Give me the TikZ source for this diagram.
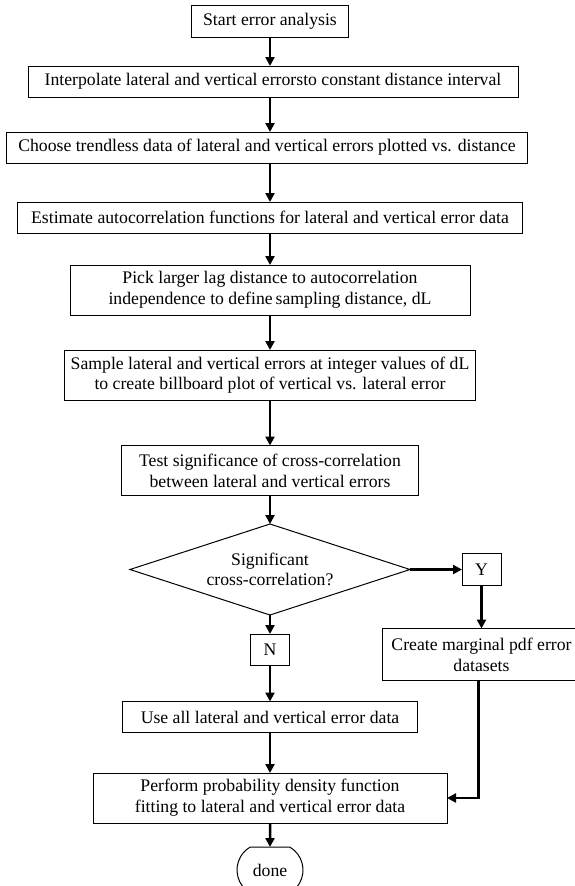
\documentclass[tikz,border=0pt]{standalone}
\usepackage{fontspec}
\setmainfont{Liberation Serif}
\usetikzlibrary{shapes.geometric, shapes.misc, positioning, arrows.meta}

\begin{document}
\begin{tikzpicture}[
    node distance=30pt and 50pt,
    process/.style={
        rectangle,
        minimum height=31pt,
        inner sep=0pt,
        outer sep=0pt,
        align=center,
        draw=black,
        line width=1pt,
        font=\fontsize{17.7}{20.7}\selectfont
    },
    decision/.style={
        diamond,
        aspect=3,
        inner sep=0pt,
        outer sep=0pt,
        minimum width=280pt,
        minimum height=91pt,
        align=center,
        draw=black,
        line width=1pt,
        font=\fontsize{17.7}{20.7}\selectfont
    },
    flag/.style={process, minimum width=39pt},
    terminal/.style={
        rounded rectangle,
        rounded rectangle arc length=120,
        minimum width=66pt,
        minimum height=46pt,
        inner sep=0pt,
        outer sep=0pt,
        draw=black,
        line width=1pt,
        font=\fontsize{17.7}{20.7}\selectfont
    },
    arrow/.style={line width=2.5pt,-{Triangle[length=9pt,width=9pt]}}
]

\useasboundingbox (0,0) rectangle (575pt,-886pt);

% Nodes
\node (start) [process, minimum width=157pt, minimum height=32pt] at (270pt,-21pt) {Start error analysis};
\node (interp) [process, minimum width=490pt, below=29pt of start, xshift=3pt] {Interpolate lateral and vertical errorsto constant distance interval};
\node (choose) [process, minimum width=521pt, below=35pt of interp, xshift=-6pt] {Choose trendless data of lateral and vertical errors plotted vs. distance};
\node (estim) [process, minimum width=505pt, below=39pt of choose, xshift=3pt] {Estimate autocorrelation functions for lateral and vertical error data};
\node (pick) [process, minimum width=400pt, minimum height=50pt, below=32pt of estim] {Pick larger lag distance to autocorrelation\\independence to define\,sampling distance, dL};
\node (sample) [process, minimum width=411pt, minimum height=50pt, below=35pt of pick] {Sample lateral and vertical errors at integer values of dL\\to create billboard plot of vertical vs. lateral error};
\node (test) [process, minimum width=297pt, minimum height=50pt, below=45.5pt of sample] {Test significance of cross-correlation\\between lateral and vertical errors};
\node (signif) [decision, below=28.5pt of test] {Significant\\cross-correlation?};
\node (yes) [flag, minimum height=32pt, right=52pt of signif] {Y};
\node (create) [process, minimum width=198pt, minimum height=52pt, below=43pt of yes] {Create marginal pdf error\\datasets};
\node (no) [flag, below=19pt of signif] {N};
\node (useall) [process, minimum width=295pt, below=36.5pt of no] {Use all lateral and vertical error data};
\node (perform) [process, minimum width=354pt, minimum height=50pt, below=40.5pt of useall] {Perform probability density function\\fitting to lateral and vertical error data};
\node (done) [terminal, below=24pt of perform] {done};

% Arrows
\draw [arrow] (start) -- (start |- interp.north);
\draw [arrow] (interp.south -| start) -- (start |- choose.north);
\draw [arrow] (choose.south -| start) -- (start |- estim.north);
\draw [arrow] (estim) -- (pick);
\draw [arrow] (pick) -- (sample);
\draw [arrow] (sample) -- (test);
\draw [arrow] (test) -- (signif);
\draw [arrow] (signif) -- (yes);
\draw [arrow] (yes) -- (create);
\draw [arrow] (signif) -- (no);
\draw [arrow] (no) -- (useall);
\draw [arrow] (useall) -- (perform);
\draw [arrow] ([xshift=-3pt]create.south) |- (perform.east);
\draw [arrow] (perform) -- (done);

\end{tikzpicture}
\end{document}
